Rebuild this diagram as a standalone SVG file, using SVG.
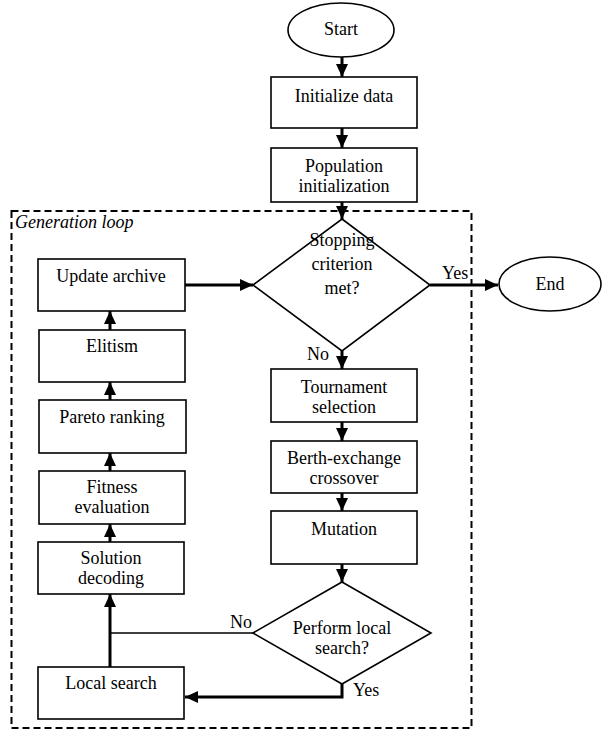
<svg xmlns="http://www.w3.org/2000/svg" width="603" height="733" viewBox="0 0 603 733">
  <style>
    .box { fill: #fff; stroke: #000; stroke-width: 1.6; }
    .lbl { font-family: "Liberation Serif", "Times New Roman", serif; font-size: 18px; fill: #000; text-anchor: middle; }
    .side { font-family: "Liberation Serif", "Times New Roman", serif; font-size: 18px; fill: #000; }
    .flow { fill: none; stroke: #000; stroke-width: 3; }
    .thin { fill: none; stroke: #000; stroke-width: 1.6; }
  </style>
  <defs>
    <marker id="arrow" markerUnits="userSpaceOnUse" markerWidth="14" markerHeight="12" refX="13" refY="6" orient="auto">
      <path d="M0,0 L13,6 L0,12 z" fill="#000"/>
    </marker>
  </defs>
  <rect width="603" height="733" fill="#fff"/>

  <!-- loop frame -->
  <g id="generation-loop">
    <rect x="11.5" y="211" width="460" height="517" fill="none" stroke="#000" stroke-width="2" stroke-dasharray="7,4"/>
    <text class="side" x="15" y="228" font-style="italic">Generation loop</text>
  </g>

  <!-- connectors -->
  <g id="connectors">
    <line class="flow" x1="342" y1="57" x2="342" y2="77" marker-end="url(#arrow)"/>
    <line class="flow" x1="342" y1="128" x2="342" y2="148" marker-end="url(#arrow)"/>
    <line class="flow" x1="342" y1="202" x2="342" y2="219" marker-end="url(#arrow)"/>
    <line class="flow" x1="430" y1="285" x2="498" y2="285" marker-end="url(#arrow)"/>
    <line class="flow" x1="342" y1="351" x2="342" y2="369" marker-end="url(#arrow)"/>
    <line class="flow" x1="342" y1="422" x2="342" y2="441" marker-end="url(#arrow)"/>
    <line class="flow" x1="342" y1="493" x2="342" y2="511" marker-end="url(#arrow)"/>
    <line class="flow" x1="342" y1="564" x2="342" y2="582" marker-end="url(#arrow)"/>
    <polyline class="flow" points="342,684 342,697 185,697" marker-end="url(#arrow)"/>
    <line class="thin" x1="253" y1="633" x2="110" y2="633"/>
    <line class="flow" x1="110" y1="667" x2="110" y2="594" marker-end="url(#arrow)"/>
    <line class="flow" x1="110" y1="542" x2="110" y2="524" marker-end="url(#arrow)"/>
    <line class="flow" x1="110" y1="471" x2="110" y2="453" marker-end="url(#arrow)"/>
    <line class="flow" x1="110" y1="400" x2="110" y2="382" marker-end="url(#arrow)"/>
    <line class="flow" x1="110" y1="330" x2="110" y2="311" marker-end="url(#arrow)"/>
    <line class="flow" x1="185" y1="285" x2="253" y2="285" marker-end="url(#arrow)"/>
    <text class="side" x="442" y="279">Yes</text>
    <text class="side" x="307" y="360">No</text>
    <text class="side" x="230" y="628">No</text>
    <text class="side" x="353" y="696">Yes</text>
  </g>

  <!-- nodes -->
  <g id="start">
    <ellipse class="box" cx="341" cy="30" rx="53" ry="27"/>
    <text class="lbl" x="341" y="35">Start</text>
  </g>
  <g id="init-data">
    <rect class="box" x="271" y="77" width="146" height="51"/>
    <text class="lbl" x="344" y="102">Initialize data</text>
  </g>
  <g id="pop-init">
    <rect class="box" x="271" y="148" width="146" height="54"/>
    <text class="lbl" x="344" y="172">Population</text>
    <text class="lbl" x="344" y="192">initialization</text>
  </g>
  <g id="stop-check">
    <polygon class="box" points="342,219 430,285 342,351 253,285"/>
    <text class="lbl" x="342" y="246">Stopping</text>
    <text class="lbl" x="342" y="270">criterion</text>
    <text class="lbl" x="342" y="294">met?</text>
  </g>
  <g id="end">
    <ellipse class="box" cx="550" cy="284" rx="51" ry="27"/>
    <text class="lbl" x="550" y="290">End</text>
  </g>
  <g id="tournament">
    <rect class="box" x="271" y="369" width="146" height="53"/>
    <text class="lbl" x="344" y="393">Tournament</text>
    <text class="lbl" x="344" y="413">selection</text>
  </g>
  <g id="crossover">
    <rect class="box" x="271" y="441" width="146" height="52"/>
    <text class="lbl" x="344" y="464">Berth-exchange</text>
    <text class="lbl" x="344" y="484">crossover</text>
  </g>
  <g id="mutation">
    <rect class="box" x="271" y="511" width="146" height="53"/>
    <text class="lbl" x="344" y="535">Mutation</text>
  </g>
  <g id="local-check">
    <polygon class="box" points="342,582 431,633 342,684 253,633"/>
    <text class="lbl" x="342" y="634">Perform local</text>
    <text class="lbl" x="342" y="654">search?</text>
  </g>
  <g id="local-search">
    <rect class="box" x="38" y="667" width="146" height="52"/>
    <text class="lbl" x="111" y="689">Local search</text>
  </g>
  <g id="decoding">
    <rect class="box" x="38" y="542" width="146" height="52"/>
    <text class="lbl" x="111" y="564">Solution</text>
    <text class="lbl" x="111" y="584">decoding</text>
  </g>
  <g id="fitness">
    <rect class="box" x="39" y="471" width="146" height="53"/>
    <text class="lbl" x="112" y="493">Fitness</text>
    <text class="lbl" x="112" y="513">evaluation</text>
  </g>
  <g id="pareto">
    <rect class="box" x="39" y="400" width="147" height="53"/>
    <text class="lbl" x="112" y="423">Pareto ranking</text>
  </g>
  <g id="elitism">
    <rect class="box" x="39" y="330" width="146" height="52"/>
    <text class="lbl" x="112" y="352">Elitism</text>
  </g>
  <g id="archive">
    <rect class="box" x="38" y="259" width="147" height="52"/>
    <text class="lbl" x="111" y="282">Update archive</text>
  </g>
</svg>
